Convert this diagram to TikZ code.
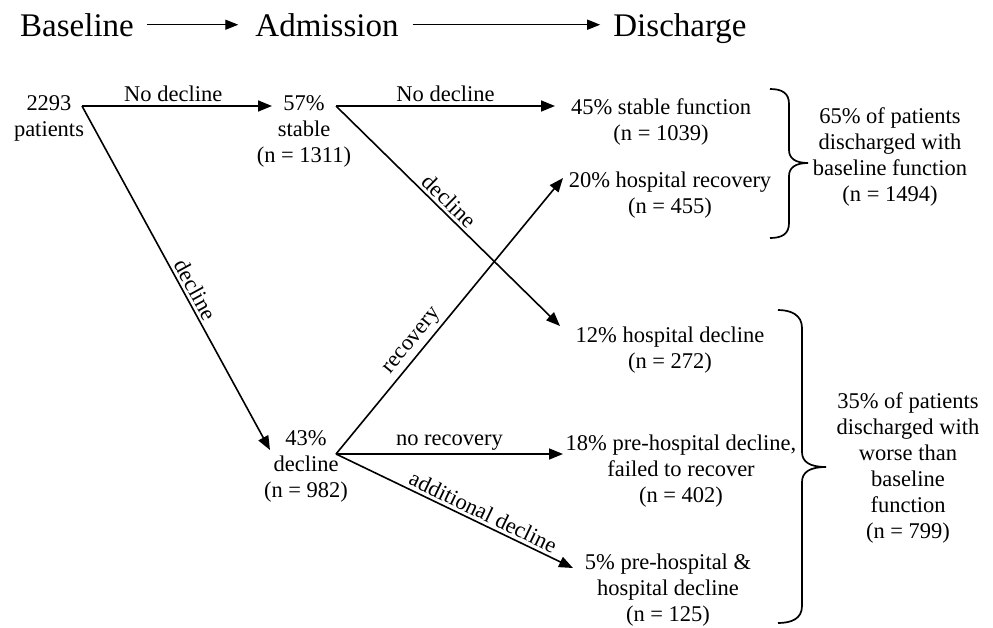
\documentclass[tikz,border=0pt]{standalone}
\usepackage{fontspec}
\setmainfont{Liberation Serif}
\usetikzlibrary{arrows.meta}
\begin{document}
\begin{tikzpicture}[x=1pt,y=-1pt,
  hdr/.style={font=\fontsize{33}{38}\selectfont, inner sep=0pt, anchor=base},
  txt/.style={font=\fontsize{22.5}{26}\selectfont, align=center, inner sep=0pt, anchor=base},
  lbl/.style={font=\fontsize{22.5}{26}\selectfont, inner sep=3pt},
  flow/.style={line width=1.6pt, -{Triangle[length=14pt,width=11pt]}},
  hflow/.style={line width=1.3pt, -{Triangle[length=13pt,width=10pt]}},
  brc/.style={line width=1.7pt}]
\useasboundingbox (0,0) rectangle (993,627);
\fill[white] (0,0) rectangle (993,627);

% header
\node[hdr] (hb) at (77,36) {Baseline};
\node[hdr] (ha) at (327,36) {Admission};
\node[hdr] (hd) at (680,36) {Discharge};
\draw[hflow, shorten <=13pt, shorten >=17pt] (hb.east) -- (ha.west);
\draw[hflow, shorten <=14pt, shorten >=13pt] (ha.east) -- (ha.east -| hd.west);

% nodes (anchor = baseline of the last line)
\node[txt] (nB) at (49,136) {2293\\patients};
\node[txt] (n57) at (304,162) {57\%\\stable\\(n = 1311)};
\node[txt] (n45) at (661,140) {45\% stable function\\(n = 1039)};
\node[txt] (n20) at (670,213) {20\% hospital recovery\\(n = 455)};
\node[txt] (n12) at (670,368) {12\% hospital decline\\(n = 272)};
\node[txt] (n43) at (306,497) {43\%\\decline\\(n = 982)};
\node[txt] (n18) at (681,502) {18\% pre-hospital decline,\\failed to recover\\(n = 402)};
\node[txt] (n5) at (668,621) {5\% pre-hospital \&\\hospital decline\\(n = 125)};
\node[txt] (s65) at (890,201) {65\% of patients\\discharged with\\baseline function\\(n = 1494)};
\node[txt] (s35) at (908,538) {35\% of patients\\discharged with\\worse than\\baseline\\function\\(n = 799)};

% attachment points
\coordinate (bo) at (82,106);
\coordinate (i57) at (272,106);
\coordinate (o57) at (336,106);
\coordinate (i45) at (555,106);
\coordinate (i12) at (560,326);
\coordinate (i43) at (270,450);
\coordinate (o43) at (336,454);
\coordinate (i20) at (563,178);
\coordinate (i18) at (563,454);
\coordinate (i5) at (573,568);

% connectors
\draw[flow] (bo) -- node[lbl, above, pos=0.48] {No decline} (i57);
\draw[flow] (bo) -- node[lbl, sloped, above, pos=0.55] {decline} (i43);
\draw[flow] (o57) -- node[lbl, above, pos=0.5] {No decline} (i45);
\draw[flow] (o57) -- node[lbl, sloped, above, pos=0.47] {decline} (i12);
\draw[flow] (o43) -- node[lbl, sloped, above, pos=0.38] {recovery} (i20);
\draw[flow] (o43) -- node[lbl, above, pos=0.5] {no recovery} (i18);
\draw[flow] (o43) -- node[lbl, sloped, above, pos=0.6] {additional decline} (i5);

% braces
\draw[brc] (770,89) .. controls (782,89) and (789,93) .. (789,104) -- (789,150)
  .. controls (789,158) and (795,163) .. (808,163)
  .. controls (795,163) and (789,168) .. (789,176) -- (789,223)
  .. controls (789,234) and (782,238) .. (770,238);
\draw[brc] (778,310) .. controls (791,310) and (802,315) .. (802,328) -- (802,452)
  .. controls (802,462) and (810,467) .. (826,467)
  .. controls (810,467) and (802,472) .. (802,482) -- (802,606)
  .. controls (802,619) and (791,623) .. (778,623);
\end{tikzpicture}
\end{document}
